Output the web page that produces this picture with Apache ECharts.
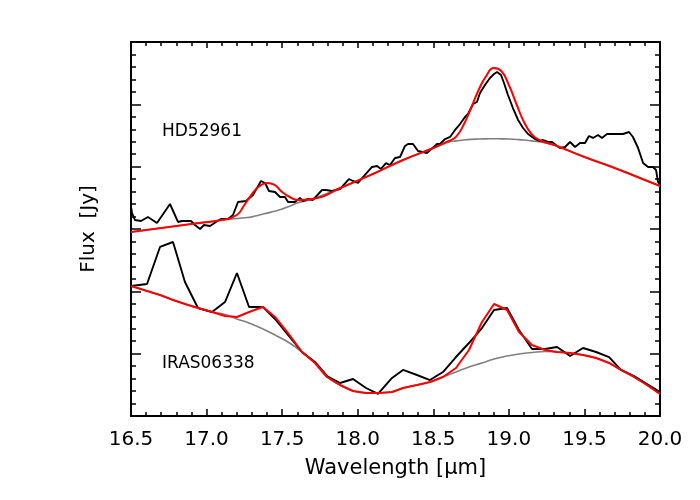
<!DOCTYPE html>
<html>
<head>
<meta charset="utf-8">
<script src="https://cdn.jsdelivr.net/npm/echarts@6/dist/echarts.min.js"></script>
<style>
html, body { margin: 0; padding: 0; background: #fff; }
#chart { width: 700px; height: 500px; }
</style>
</head>
<body>
<div id="chart"></div>
<script>
// HD52961 spectrum (black)
var topWl = [16.500,16.507,16.526,16.566,16.612,16.672,16.758,16.811,16.837,16.864,16.897,16.923,16.957,16.983,17.023,17.062,17.095,17.142,17.175,17.208,17.261,17.307,17.360,17.387,17.413,17.453,17.486,17.519,17.539,17.585,17.618,17.638,17.671,17.704,17.764,17.790,17.830,17.883,17.942,17.969,18.002,18.048,18.095,18.128,18.154,18.187,18.214,18.247,18.280,18.313,18.333,18.366,18.399,18.458,18.525,18.544,18.578,18.611,18.644,18.677,18.710,18.730,18.763,18.789,18.809,18.842,18.875,18.902,18.922,18.948,18.968,18.994,19.027,19.061,19.094,19.127,19.173,19.206,19.226,19.259,19.286,19.319,19.338,19.372,19.405,19.438,19.471,19.504,19.530,19.557,19.590,19.616,19.649,19.682,19.722,19.755,19.795,19.821,19.855,19.888,19.921,19.954,19.974,19.987,20.000];
var topFlux = [3.339,3.242,3.129,3.113,3.177,3.081,3.387,3.097,3.113,3.113,3.113,3.048,2.984,3.048,3.032,3.097,3.145,3.145,3.210,3.419,3.435,3.532,3.758,3.726,3.597,3.581,3.500,3.500,3.419,3.419,3.484,3.435,3.468,3.452,3.613,3.613,3.597,3.629,3.790,3.758,3.726,3.855,3.984,4.000,3.952,4.048,4.016,4.129,4.145,4.323,4.355,4.355,4.242,4.210,4.355,4.355,4.435,4.468,4.581,4.677,4.790,4.839,5.000,5.032,5.177,5.306,5.419,5.484,5.516,5.468,5.339,5.145,4.935,4.742,4.613,4.516,4.435,4.403,4.419,4.387,4.387,4.323,4.290,4.306,4.387,4.306,4.371,4.371,4.484,4.452,4.500,4.452,4.516,4.516,4.516,4.516,4.548,4.468,4.290,4.048,3.984,3.984,3.935,3.742,3.694];

// HD52961 fit (red) and continuum (grey)
var topFitWl = [16.5,16.7,16.9,17.1,17.2,17.25,17.3,17.35,17.4,17.45,17.5,17.55,17.6,17.7,17.9,18.1,18.3,18.5,18.55,18.6,18.65,18.7,18.75,18.8,18.85,18.9,18.95,19.0,19.05,19.1,19.15,19.2,19.3,19.5,19.7,19.9,20.0];
var topFit = [2.935,3.000,3.065,3.129,3.210,3.371,3.548,3.677,3.726,3.694,3.581,3.500,3.452,3.468,3.661,3.871,4.097,4.290,4.345,4.400,4.470,4.661,4.935,5.226,5.452,5.581,5.532,5.306,5.000,4.710,4.516,4.419,4.339,4.145,3.968,3.774,3.677];
var topCont = [2.935,3.000,3.065,3.129,3.153,3.165,3.180,3.210,3.240,3.270,3.306,3.350,3.403,3.468,3.661,3.871,4.097,4.290,4.340,4.385,4.405,4.420,4.430,4.435,4.438,4.440,4.438,4.435,4.428,4.420,4.405,4.390,4.339,4.145,3.968,3.774,3.677];

// IRAS06338 spectrum, fit and continuum
var botWl = [16.500,16.606,16.692,16.778,16.857,16.943,17.036,17.122,17.201,17.281,17.373,17.453,17.539,17.631,17.717,17.797,17.883,17.969,18.055,18.134,18.227,18.300,18.392,18.478,18.564,18.650,18.736,18.822,18.902,18.988,19.067,19.153,19.239,19.319,19.405,19.491,19.577,19.663,19.742,19.828,19.914,20.000];
var botFlux = [2.065,2.097,2.694,2.774,2.129,1.710,1.645,1.806,2.274,1.726,1.726,1.532,1.274,1.000,0.839,0.613,0.500,0.565,0.419,0.323,0.581,0.710,0.629,0.548,0.677,0.919,1.145,1.387,1.677,1.710,1.355,1.048,1.048,1.081,0.935,1.065,1.000,0.919,0.710,0.613,0.484,0.355];
var botFit = [2.065,1.984,1.919,1.839,1.774,1.710,1.645,1.581,1.565,1.645,1.726,1.565,1.306,1.000,0.823,0.597,0.468,0.371,0.339,0.339,0.355,0.419,0.468,0.516,0.597,0.742,1.032,1.484,1.774,1.677,1.323,1.113,1.032,1.000,0.984,0.952,0.903,0.823,0.710,0.597,0.468,0.323];
var botCont = [2.065,1.984,1.919,1.839,1.774,1.710,1.645,1.605,1.532,1.468,1.371,1.274,1.161,1.000,0.823,0.597,0.468,0.371,0.339,0.339,0.355,0.419,0.468,0.516,0.597,0.677,0.758,0.823,0.887,0.935,0.968,0.992,1.008,1.000,0.984,0.952,0.903,0.823,0.710,0.597,0.468,0.323];

function pairs(xs, ys) {
    return xs.map(function (x, i) { return [x, ys[i]]; });
}

var fontName = 'DejaVu Sans';

function tickAxis(pos, majorLen, minorLen) {
    var ax = {
        position: pos,
        axisLine: { show: true, onZero: false, lineStyle: { color: '#000', width: 2 } },
        axisTick: { show: true, inside: true, length: majorLen, lineStyle: { color: '#000', width: 1.5 } },
        minorTick: { show: true, splitNumber: 5, length: minorLen, lineStyle: { color: '#000', width: 1.5 } },
        splitLine: { show: false },
        minorSplitLine: { show: false },
        axisLabel: { show: false }
    };
    return ax;
}

var xBottom = tickAxis('bottom', 7, 4);
xBottom.type = 'value';
xBottom.min = 16.5;
xBottom.max = 20.0;
xBottom.interval = 0.5;
xBottom.axisLabel = {
    show: true,
    color: '#000',
    fontFamily: fontName,
    fontSize: 20,
    margin: 14,
    formatter: function (v) { return v.toFixed(1); }
};
xBottom.name = 'Wavelength [μm]';
xBottom.nameLocation = 'middle';
xBottom.nameGap = 42;
xBottom.nameTextStyle = { color: '#000', fontFamily: fontName, fontSize: 21 };

var xTop = tickAxis('top', 6, 4);
xTop.type = 'value';
xTop.min = 16.5;
xTop.max = 20.0;
xTop.interval = 0.5;

var yLeft = tickAxis('left', 10, 5);
yLeft.type = 'value';
yLeft.min = 0;
yLeft.max = 6;
yLeft.interval = 1;
yLeft.name = 'Flux  [Jy]';
yLeft.nameLocation = 'middle';
yLeft.nameGap = 32;
yLeft.nameTextStyle = { color: '#000', fontFamily: fontName, fontSize: 20 };

var yRight = tickAxis('right', 10, 5);
yRight.type = 'value';
yRight.min = 0;
yRight.max = 6;
yRight.interval = 1;

var chart = echarts.init(document.getElementById('chart'));

function line(data, color, width, smooth, z) {
    return {
        type: 'line',
        xAxisIndex: 0,
        yAxisIndex: 0,
        data: data,
        showSymbol: false,
        smooth: smooth,
        z: z,
        lineStyle: { color: color, width: width },
        silent: true,
        animation: false
    };
}

var option = {
    animation: false,
    grid: { left: 131, right: 40, top: 42, bottom: 84 },
    xAxis: [xBottom, xTop],
    yAxis: [
        { type: 'value', min: -0.0323, max: 6, show: false },
        yLeft,
        yRight
    ],
    graphic: [
        { type: 'text', left: 162, top: 123, style: { text: 'HD52961', font: '17px "DejaVu Sans"', fill: '#000' } },
        { type: 'text', left: 162, top: 355, style: { text: 'IRAS06338', font: '17px "DejaVu Sans"', fill: '#000' } }
    ],
    series: [
        line(pairs(topFitWl, topCont), '#808080', 1.6, true, 2),
        line(pairs(topWl, topFlux), '#000', 1.9, false, 3),
        line(pairs(topFitWl, topFit), '#ff0000', 2, true, 4),
        line(pairs(botWl, botCont), '#808080', 1.6, true, 2),
        line(pairs(botWl, botFlux), '#000', 1.9, false, 3),
        line(pairs(botWl, botFit), '#ff0000', 2, false, 4)
    ]
};
chart.setOption(option);
</script>
</body>
</html>
